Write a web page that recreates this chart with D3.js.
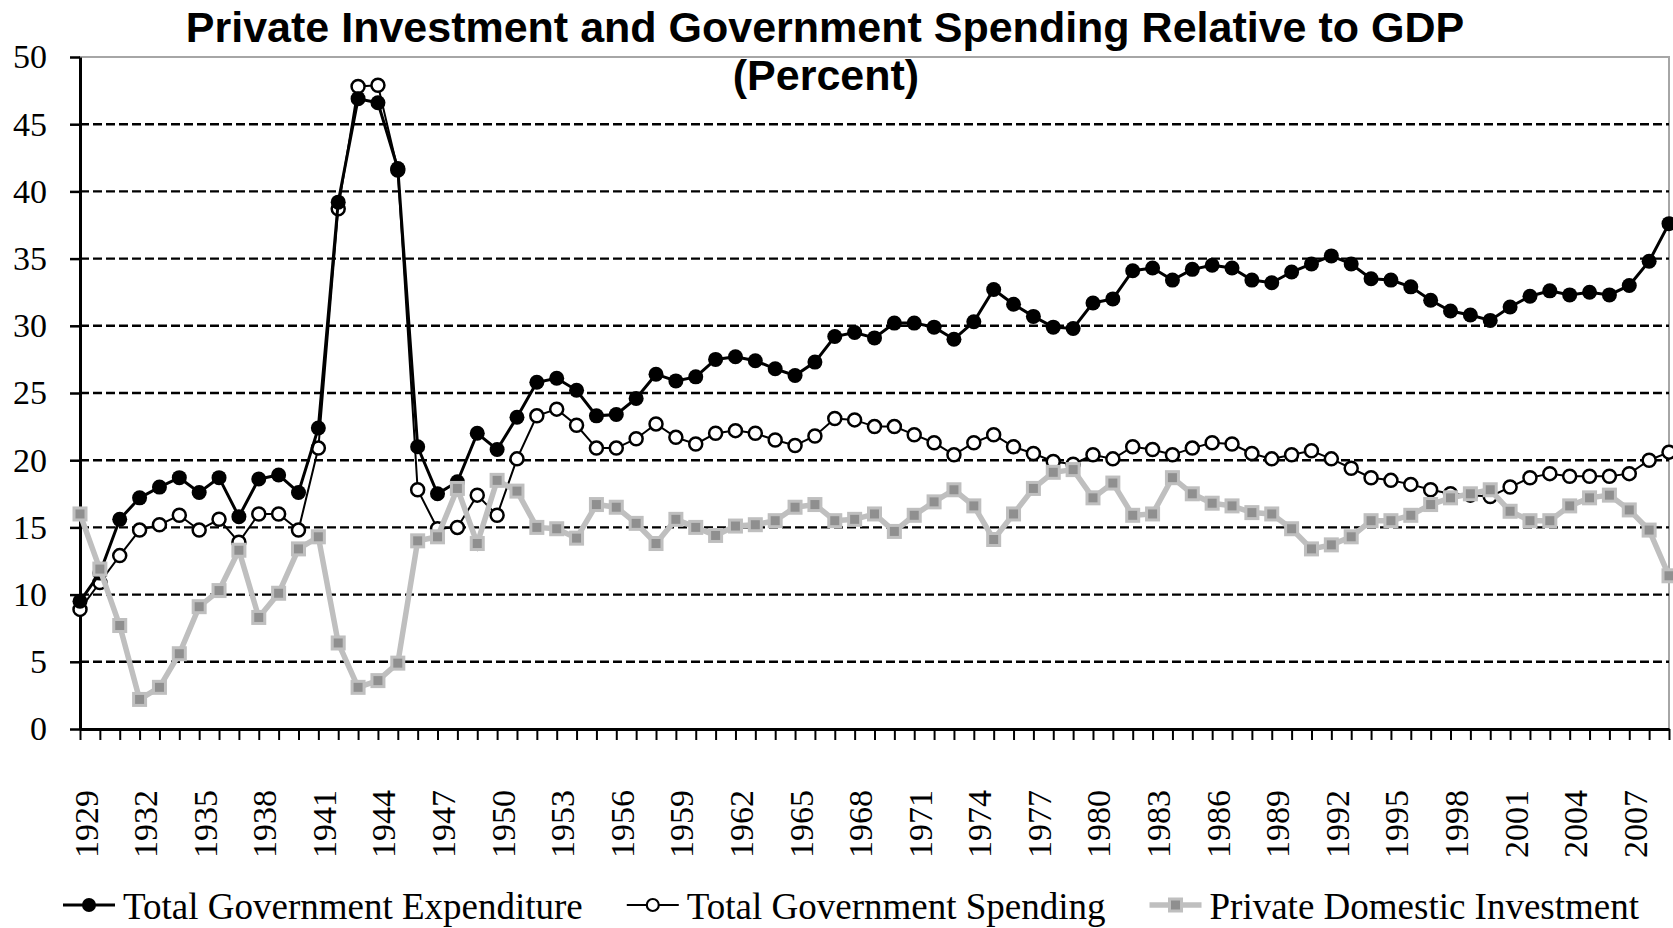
<!DOCTYPE html>
<html>
<head>
<meta charset="utf-8">
<script src="https://cdn.jsdelivr.net/npm/d3@7"></script>
<style>
  body { margin: 0; background: #fff; }
  svg { display: block; }
  .tick text { font-family: "Liberation Serif", "Times New Roman", serif; font-size: 34px; fill: #000; }
</style>
</head>
<body>
<svg id="chart"></svg>
<script>
// 1: DATA
const years = d3.range(1929, 2010);
const seriesNames = ["Total Government Expenditure", "Total Government Spending", "Private Domestic Investment"];

const totalGovExpenditure = [
    9.5, 11.6, 15.6, 17.2, 18.0, 18.7, 17.6, 18.7, 15.8, 18.6,
    18.9, 17.6, 22.4, 39.2, 46.9, 46.6, 41.7, 21.0, 17.5, 18.4,
    22.0, 20.8, 23.2, 25.8, 26.1, 25.2, 23.3, 23.4, 24.6, 26.4,
    25.9, 26.2, 27.5, 27.7, 27.4, 26.8, 26.3, 27.3, 29.2, 29.5,
    29.1, 30.2, 30.2, 29.9, 29.0, 30.3, 32.7, 31.6, 30.7, 29.9,
    29.8, 31.7, 32.0, 34.1, 34.3, 33.4, 34.2, 34.5, 34.3, 33.4,
    33.2, 34.0, 34.6, 35.2, 34.6, 33.5, 33.4, 32.9, 31.9, 31.1,
    30.8, 30.4, 31.4, 32.2, 32.6, 32.3, 32.5, 32.3, 33.0, 34.8,
    37.6
];

const totalGovSpending = [
    8.9, 10.9, 12.9, 14.8, 15.2, 15.9, 14.8, 15.6, 13.9, 16.0,
    16.0, 14.8, 20.9, 38.7, 47.8, 47.9, 41.6, 17.8, 14.9, 15.0,
    17.4, 15.9, 20.1, 23.3, 23.8, 22.6, 20.9, 20.9, 21.6, 22.7,
    21.7, 21.2, 22.0, 22.2, 22.0, 21.5, 21.1, 21.8, 23.1, 23.0,
    22.5, 22.5, 21.9, 21.3, 20.4, 21.3, 21.9, 21.0, 20.5, 19.9,
    19.7, 20.4, 20.1, 21.0, 20.8, 20.4, 20.9, 21.3, 21.2, 20.5,
    20.1, 20.4, 20.7, 20.1, 19.4, 18.7, 18.5, 18.2, 17.8, 17.5,
    17.4, 17.3, 18.0, 18.7, 19.0, 18.8, 18.8, 18.8, 19.0, 20.0,
    20.6
];

const privateDomInvestment = [
    16.0, 11.9, 7.7, 2.2, 3.1, 5.6, 9.1, 10.3, 13.3, 8.3,
    10.1, 13.4, 14.3, 6.4, 3.1, 3.6, 4.9, 14.0, 14.3, 17.9,
    13.8, 18.5, 17.7, 15.0, 14.9, 14.2, 16.7, 16.5, 15.3, 13.8,
    15.6, 15.0, 14.4, 15.1, 15.2, 15.5, 16.5, 16.7, 15.5, 15.6,
    16.0, 14.7, 15.9, 16.9, 17.8, 16.6, 14.1, 16.0, 17.9, 19.1,
    19.3, 17.2, 18.3, 15.9, 16.0, 18.7, 17.5, 16.8, 16.6, 16.1,
    16.0, 14.9, 13.4, 13.7, 14.3, 15.5, 15.5, 15.9, 16.7, 17.2,
    17.5, 17.8, 16.2, 15.5, 15.5, 16.6, 17.2, 17.4, 16.3, 14.8,
    11.4
];

const yTicks = [0, 5, 10, 15, 20, 25, 30, 35, 40, 45, 50];

// 2: GLOBAL SIZES
const W = 1673, H = 928;
const margin = { top: 57, right: 4, bottom: 199, left: 80 };
const width = W - margin.left - margin.right;
const height = H - margin.top - margin.bottom;

const root = d3.select("#chart").attr("width", W).attr("height", H);
const svg = root.append("g").attr("transform", `translate(${margin.left},${margin.top})`);

// 3: SCALES
const x = d3.scaleLinear().domain([1929, 2009]).range([0, width]);
const y = d3.scaleLinear().domain([0, 50]).range([height, 0]);

// 4: GRIDLINES + PLOT BORDER
svg.append("rect")
    .attr("width", width).attr("height", height)
    .attr("fill", "none").attr("stroke", "#a6a6a6").attr("stroke-width", 2);

svg.append("g")
    .selectAll("line")
    .data(yTicks.filter(d => d > 0 && d < 50))
    .join("line")
    .attr("x1", 0).attr("x2", width)
    .attr("y1", d => y(d)).attr("y2", d => y(d))
    .attr("stroke", "#000").attr("stroke-width", 2.4)
    .attr("stroke-dasharray", "9,4");

// 5: AXES
const yAxis = svg.append("g")
    .call(d3.axisLeft(y).tickValues(yTicks).tickSize(10).tickSizeOuter(0).tickPadding(23));
yAxis.select(".domain").attr("stroke-width", 3);
yAxis.selectAll(".tick line").attr("stroke-width", 2.5);

const xAxis = svg.append("g")
    .attr("transform", `translate(0,${height})`)
    .call(d3.axisBottom(x).tickValues(years).tickSize(11).tickSizeOuter(0)
        .tickFormat(d => (d - 1929) % 3 === 0 ? d : ""));
xAxis.select(".domain").attr("stroke-width", 3);
xAxis.selectAll(".tick line").attr("stroke-width", 2);
xAxis.selectAll(".tick text")
    .attr("transform", "rotate(-90)")
    .attr("x", -61).attr("y", 0).attr("dy", "0.5em")
    .style("text-anchor", "end");

// 6: LINES AND MARKERS
const lineGen = vals => d3.line()
    .x((d, i) => x(years[i]))
    .y(d => y(d))(vals);

// Total Government Spending (open circles)
svg.append("path")
    .attr("d", lineGen(totalGovSpending))
    .attr("fill", "none").attr("stroke", "#000").attr("stroke-width", 2);
svg.append("g").selectAll("circle")
    .data(totalGovSpending)
    .join("circle")
    .attr("cx", (d, i) => x(years[i])).attr("cy", d => y(d))
    .attr("r", 6.5).attr("fill", "#fff").attr("stroke", "#000").attr("stroke-width", 2.5);

// Total Government Expenditure (filled circles)
svg.append("path")
    .attr("d", lineGen(totalGovExpenditure))
    .attr("fill", "none").attr("stroke", "#000").attr("stroke-width", 3);
svg.append("g").selectAll("circle")
    .data(totalGovExpenditure)
    .join("circle")
    .attr("cx", (d, i) => x(years[i])).attr("cy", d => y(d))
    .attr("r", 7.5).attr("fill", "#000");

// Private Domestic Investment (grey squares)
svg.append("path")
    .attr("d", lineGen(privateDomInvestment))
    .attr("fill", "none").attr("stroke", "#bfbfbf").attr("stroke-width", 5.5);
svg.append("g").selectAll("rect")
    .data(privateDomInvestment)
    .join("rect")
    .attr("x", (d, i) => x(years[i]) - 6).attr("y", d => y(d) - 6)
    .attr("width", 12).attr("height", 12)
    .attr("fill", "#8f8f8f").attr("stroke", "#bfbfbf").attr("stroke-width", 3);

// 7: TITLE
root.append("text")
    .attr("x", 825).attr("y", 42)
    .attr("text-anchor", "middle")
    .style("font-family", "'Liberation Sans', Arial, sans-serif")
    .style("font-weight", "bold").style("font-size", "43px")
    .text("Private Investment and Government Spending Relative to GDP");
root.append("text")
    .attr("x", 826).attr("y", 90)
    .attr("text-anchor", "middle")
    .style("font-family", "'Liberation Sans', Arial, sans-serif")
    .style("font-weight", "bold").style("font-size", "43px")
    .text("(Percent)");

// 8: LEGEND
const legend = root.append("g").attr("transform", "translate(63,905)");
let lx = 0;
seriesNames.forEach((name, i) => {
    const item = legend.append("g").attr("transform", `translate(${lx},0)`);
    if (i === 0) {
        item.append("line").attr("x1", 0).attr("x2", 52)
            .attr("stroke", "#000").attr("stroke-width", 3);
        item.append("circle").attr("cx", 26).attr("r", 7).attr("fill", "#000");
    } else if (i === 1) {
        item.append("line").attr("x1", 0).attr("x2", 52)
            .attr("stroke", "#000").attr("stroke-width", 2);
        item.append("circle").attr("cx", 26).attr("r", 6)
            .attr("fill", "#fff").attr("stroke", "#000").attr("stroke-width", 2.2);
    } else {
        item.append("line").attr("x1", 0).attr("x2", 52)
            .attr("stroke", "#bfbfbf").attr("stroke-width", 5.5);
        item.append("rect").attr("x", 20).attr("y", -6).attr("width", 12).attr("height", 12)
            .attr("fill", "#8f8f8f").attr("stroke", "#bfbfbf").attr("stroke-width", 3);
    }
    const t = item.append("text")
        .attr("x", 60).attr("y", 14)
        .style("font-family", "'Liberation Serif', 'Times New Roman', serif")
        .style("font-size", "37px")
        .text(name);
    lx += 60 + t.node().getComputedTextLength() + 44;
});
</script>
</body>
</html>
